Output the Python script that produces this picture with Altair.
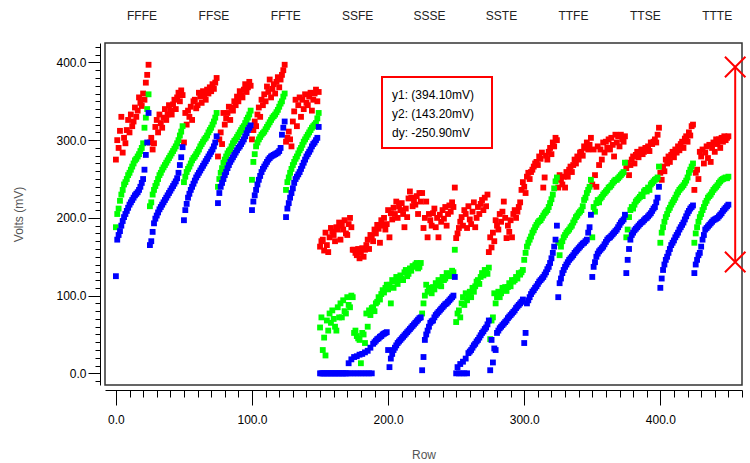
import altair as alt
import pandas as pd

# ---- data (one line per group of 25 rows) ----
red_vals = (
    [275,300,290,312,330,284,303,296,313,326,310,333,318,324,342,330,338,355,348,344,360,352,374,384,397]
  + [297,303,288,296,317,326,310,333,322,316,329,340,326,333,345,338,333,346,352,340,355,361,350,364,358]
  + [297,335,320,338,330,343,326,350,352,341,345,361,356,348,363,358,352,365,360,368,363,372,366,374,380]
  + [279,301,310,295,335,320,328,335,343,326,342,338,350,345,356,350,363,358,355,365,372,362,368,375,370]
  + [301,313,324,318,333,342,330,352,345,359,350,369,362,378,355,366,372,360,375,381,368,378,384,390,397]
  + [298,303,311,301,292,324,337,352,318,345,355,330,352,340,359,348,345,356,361,338,352,360,365,350,362]
  + [163,170,172,158,181,165,156,175,187,182,178,170,188,185,194,172,190,185,197,180,178,192,200,188,159]
  + [159,155,152,160,148,155,161,150,159,165,172,160,178,175,170,185,180,191,186,168,197,190,200,185,192]
  + [210,175,206,198,213,205,221,200,215,210,219,205,188,212,201,225,234,226,215,222,217,228,205,232,221]
  + [232,187,200,221,175,205,197,190,206,212,188,200,175,204,195,210,199,214,190,205,216,208,220,214,239]
  + [174,180,187,195,201,190,210,205,187,215,198,192,208,220,188,200,214,205,218,223,210,226,215,230,156]
  + [175,162,181,170,197,190,185,205,195,208,221,200,174,190,182,197,175,205,210,200,208,214,220,236,246]
  + [240,232,253,258,250,259,262,266,270,272,268,279,276,284,239,252,280,275,285,290,282,297,292,303,300]
  + [239,255,249,243,253,239,259,253,262,266,259,268,275,270,279,275,284,285,280,292,290,297,288,294,303]
  + [243,288,255,240,292,268,288,275,297,284,298,290,301,288,303,294,279,307,297,305,292,307,301,298,305]
  + [264,271,255,268,275,279,270,281,285,278,284,288,282,285,290,288,292,286,297,295,298,301,297,307,316]
  + [258,249,266,260,275,270,279,272,281,285,278,288,284,292,287,295,298,290,302,305,298,310,306,318,320]
  + [236,258,262,250,285,279,288,270,284,292,277,294,272,290,297,285,301,295,301,290,303,298,305,300,303,305]
)

green_vals = (
    [188,205,212,222,230,236,243,246,250,255,258,262,266,270,274,276,279,282,286,290,296,316,329,340,359]
  + [215,220,230,236,241,245,250,255,258,262,265,268,271,274,277,280,283,286,289,292,296,300,306,311,318]
  + [246,253,259,263,266,270,274,277,279,282,285,288,292,295,298,301,303,306,310,313,316,320,324,329,335]
  + [240,250,258,264,271,275,279,283,286,288,292,296,299,301,304,307,310,313,316,318,322,326,329,333,338]
  + [249,272,282,292,297,301,304,307,309,311,314,317,320,323,326,329,331,333,336,339,343,347,350,356,360]
  + [236,246,252,258,263,268,272,276,279,283,287,290,294,298,301,304,307,310,313,316,318,320,322,328,335]
  + [59,72,30,46,23,68,55,77,65,81,70,60,55,85,72,90,72,94,80,77,98,88,85,100,98]
  + [52,55,48,45,43,13,52,50,39,77,60,81,75,84,85,80,90,92,98,95,102,107,104,110,114]
  + [108,114,90,120,110,118,124,115,120,126,122,120,130,133,125,128,135,132,138,137,140,142,135,137,142]
  + [77,90,100,114,105,110,107,103,111,108,116,113,120,118,112,124,120,122,129,126,125,128,132,130,159]
  + [66,77,81,72,90,98,88,103,94,100,105,98,110,105,112,118,120,115,124,129,126,133,130,128,136]
  + [44,68,72,103,90,98,105,98,103,110,108,111,106,111,116,112,120,118,120,124,122,129,127,130,133]
  + [146,155,163,168,172,176,181,184,188,191,194,196,197,200,203,206,208,210,214,219,224,230,238,247,252]
  + [168,152,163,170,175,178,181,183,185,188,190,194,197,201,203,206,208,210,215,223,226,232,236,240,249]
  + [175,214,208,219,223,220,225,227,230,232,234,236,239,240,242,245,247,249,249,251,253,255,257,259,271]
  + [175,185,201,210,214,212,217,221,223,225,227,230,228,234,236,234,239,236,243,245,247,249,250,252,266]
  + [168,181,188,195,201,205,210,213,217,220,223,226,230,233,236,238,240,242,245,248,252,258,262,266,270]
  + [168,180,188,195,201,205,210,214,219,222,226,228,230,233,236,238,240,242,245,247,249,250,251,252,251,253]
)

blue_vals = (
    [125,172,178,183,190,196,201,205,209,213,217,220,223,226,229,231,233,236,240,245,250,262,281,297,335]
  + [165,170,182,193,199,203,207,211,214,217,220,223,226,229,232,235,238,241,244,247,251,258,268,278,291]
  + [197,210,218,226,231,236,240,244,248,252,255,258,261,264,267,270,273,276,279,282,285,288,292,297,305]
  + [219,232,240,245,250,255,259,264,268,272,275,278,281,284,287,290,292,295,298,301,305,309,313,316,319]
  + [210,221,229,236,243,249,254,259,263,266,269,272,275,277,279,280,281,282,283,284,286,290,307,316,324]
  + [201,212,219,226,232,238,245,250,253,256,259,263,267,271,275,279,282,285,288,292,295,297,300,303,317]
  + [0,0,0,0,0,0,0,0,0,0,0,0,0,0,0,0,0,0,0,0,0,13,0,18,0]
  + [21,0,22,0,24,0,25,0,27,0,29,0,33,0,38,40,42,44,45,47,48,50,51,52,53]
  + [30,8,19,25,30,33,36,39,41,43,45,47,49,51,53,55,57,59,61,63,65,67,69,71,72]
  + [4,21,43,50,55,60,65,67,68,72,75,77,79,81,83,85,87,89,90,92,94,96,98,100,124]
  + [0,8,0,12,0,15,0,19,0,26,28,30,33,36,38,41,43,46,49,52,54,57,59,63,68]
  + [4,43,14,32,30,52,55,58,60,62,64,66,68,71,73,75,77,79,81,84,86,88,90,92,95]
  + [39,52,90,94,98,102,105,107,110,112,115,118,120,122,124,127,130,134,137,142,148,155,163,172,190]
  + [98,116,122,129,133,137,140,143,146,148,150,152,155,157,159,161,163,165,167,168,170,172,181,188,204]
  + [124,137,143,150,154,157,159,161,163,166,169,172,174,175,177,179,181,183,185,188,191,194,196,198,204]
  + [129,146,160,172,178,181,184,186,188,190,192,194,195,197,199,200,202,204,206,209,212,214,220,226,240]
  + [110,122,133,140,146,150,155,160,165,168,171,175,178,181,185,188,191,194,198,202,206,209,212,214,216]
  + [129,140,146,152,155,163,172,178,185,187,189,191,193,195,197,198,199,200,202,204,206,209,211,213,215,217]
)

series_names = ["red", "green", "blue"]
series_colors = ["#ff0000", "#00ff00", "#0000ff"]

top_labels = ["FFFE", "FFSE", "FFTE", "SSFE", "SSSE", "SSTE", "TTFE", "TTSE", "TTTE"]

cursor_row = 455
cursor_y1 = 394.10
cursor_y2 = 143.20

# ---- layout constants ----
W, H = 637, 342
FONT = "Liberation Sans"
X_DOMAIN = [-8, 460]
Y_DOMAIN = [-15, 425]

frames = []
for name, vals in zip(series_names, [red_vals, green_vals, blue_vals]):
    frames.append(pd.DataFrame({"row": list(range(len(vals))), "volts": vals, "series": name}))
df = pd.concat(frames, ignore_index=True)

x_scale = alt.Scale(domain=X_DOMAIN, nice=False, zero=False)
y_scale = alt.Scale(domain=Y_DOMAIN, nice=False, zero=False)

x_axis = alt.Axis(
    values=list(range(0, 461, 10)), tickCount=500,
    labelExpr="datum.value % 100 === 0 ? format(datum.value, '.1f') : ''",
    tickSize={"condition": {"test": "datum.value % 100 === 0", "value": 15}, "value": 7},
    title="Row", offset=5, grid=False, labelFlush=False, labelOverlap=False,
    titlePadding=24, labelPadding=9,
)
y_axis = alt.Axis(
    values=list(range(-10, 421, 10)), tickCount=500,
    labelExpr="(datum.value % 100 === 0 && datum.value >= 0) ? format(datum.value, '.1f') : ''",
    tickSize={"condition": {"test": "datum.value % 100 === 0", "value": 12}, "value": 5},
    title="Volts (mV)", offset=5, grid=False, labelFlush=False, labelOverlap=False,
    titlePadding=30, labelPadding=2,
)

points = alt.Chart(df).mark_square(size=34, opacity=1).encode(
    x=alt.X("row:Q", scale=x_scale, axis=x_axis),
    y=alt.Y("volts:Q", scale=y_scale, axis=y_axis),
    color=alt.Color("series:N", scale=alt.Scale(domain=series_names, range=series_colors), legend=None),
)

cur_df = pd.DataFrame({"row": [cursor_row], "volts": [cursor_y1], "volts2": [cursor_y2]})
rule = alt.Chart(cur_df).mark_rule(color="#ff0000", strokeWidth=2).encode(
    x="row:Q", y="volts:Q", y2="volts2:Q"
)
marks_df = pd.DataFrame({"row": [cursor_row, cursor_row], "volts": [cursor_y1, cursor_y2]})
xmarks = alt.Chart(marks_df).mark_point(
    shape="M-1,-1L1,1M-1,1L1,-1", size=420, filled=False, color="#ff0000",
    strokeWidth=2, opacity=1
).encode(x="row:Q", y="volts:Q")

dy = cursor_y2 - cursor_y1
ann_text = f"y1: ({cursor_y1:.2f}mV)\ny2: ({cursor_y2:.2f}mV)\ndy: {dy:.2f}mV"
box = alt.Chart(pd.DataFrame({"k": [0]})).mark_rect(
    fill="white", stroke="#ff0000", strokeWidth=2
).encode(x=alt.value(277), x2=alt.value(387), y=alt.value(34), y2=alt.value(105))
ann = alt.Chart(pd.DataFrame({"t": [ann_text]})).mark_text(
    align="left", baseline="top", lineBreak="\n", lineHeight=19,
    font=FONT, fontSize=12, color="#000000"
).encode(x=alt.value(287), y=alt.value(47), text="t:N")

lab_df = pd.DataFrame({"label": top_labels})
lab_df["px"] = [37 + i * 71.9 for i in range(len(top_labels))]
toplabs = alt.Chart(lab_df).mark_text(
    font=FONT, fontSize=12, color="#222222", align="center", baseline="middle"
).encode(x=alt.X("px:Q", scale=None), y=alt.value(-27), text="label:N")

chart = alt.layer(points, rule, xmarks, box, ann, toplabs).properties(
    width=W, height=H,
    padding={"left": 105, "top": 43, "right": 8, "bottom": 78},
    autosize=alt.AutoSizeParams(type="none"),
    background="white",
).configure_view(
    stroke="#333333", strokeWidth=1.5
).configure_axis(
    labelFont=FONT, labelFontSize=12, labelColor="#000000",
    titleFont=FONT, titleFontSize=12, titleColor="#555555", titleFontWeight="normal",
    domainColor="#000000", tickColor="#000000", domainWidth=1, tickWidth=1,
)

chart.save("out.html", embed_options={"renderer": "svg", "actions": False})
